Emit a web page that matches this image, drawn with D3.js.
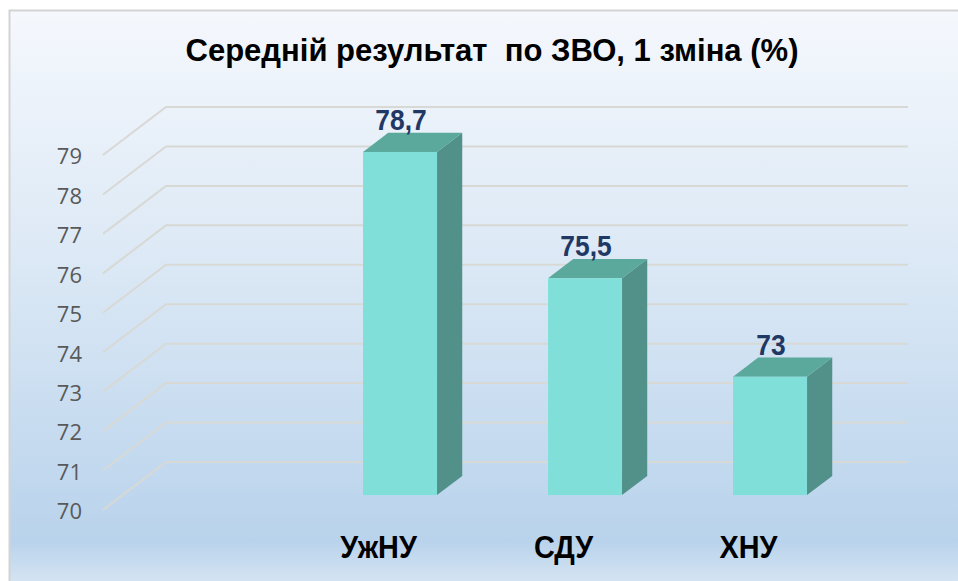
<!DOCTYPE html>
<html lang="uk">
<head>
<meta charset="utf-8">
<script src="https://d3js.org/d3.v7.min.js"></script>
<style>
  body { margin: 0; background: #fff; }
  svg { display: block; }
</style>
</head>
<body>
<script>
  var width = 958, height = 581;

  // data
  var categories = ["УжНУ", "СДУ", "ХНУ"];
  var values = [78.7, 75.5, 73];
  var valueLabels = ["78,7", "75,5", "73"];
  var yTicks = [70, 71, 72, 73, 74, 75, 76, 77, 78, 79];
  var title = "Середній результат  по ЗВО, 1 зміна (%)";

  var svg = d3.select("body").append("svg")
    .attr("width", width)
    .attr("height", height);

  // squeeze bold text a bit horizontally, like the original
  function squeeze(sel, k) {
    sel.each(function() {
      var len = this.getComputedTextLength();
      d3.select(this)
        .attr("textLength", len * k)
        .attr("lengthAdjust", "spacingAndGlyphs");
    });
  }

  // background gradient
  var defs = svg.append("defs");
  var grad = defs.append("linearGradient")
    .attr("id", "bg").attr("x1", 0).attr("y1", 0).attr("x2", 0).attr("y2", 1);
  grad.append("stop").attr("offset", "0").attr("stop-color", "#f5f8fd");
  grad.append("stop").attr("offset", "0.45").attr("stop-color", "#dbe8f5");
  grad.append("stop").attr("offset", "0.93").attr("stop-color", "#b9d3ec");
  grad.append("stop").attr("offset", "1").attr("stop-color", "#d4e3f2");

  svg.append("rect")
    .attr("x", 9).attr("y", 10)
    .attr("width", width - 9).attr("height", height - 10)
    .attr("fill", "url(#bg)");
  svg.append("path")
    .attr("d", "M9.5," + height + "V10.5H" + width)
    .attr("fill", "none").attr("stroke", "#d3d3d3").attr("stroke-width", 2);

  // scales (front plane of the 3d box)
  var y = d3.scaleLinear().domain([70, 79]).range([510, 155]);
  var x = d3.scaleBand().domain(categories).range([288, 843])
    .paddingInner(0.6).paddingOuter(0.3);

  // depth projection
  var depthX = 63, depthY = -48;
  function px(xx, d) { return xx + d * depthX; }
  function py(yy, d) { return yy + d * depthY; }

  var gridLeft = 103, gridRight = 908 - depthX;

  // gridlines: diagonal on the side wall + horizontal on the back wall
  svg.append("g").selectAll("path")
    .data(yTicks)
    .join("path")
    .attr("d", function(v) {
      return "M" + gridLeft + "," + y(v) +
        "L" + px(gridLeft, 1) + "," + py(y(v), 1) +
        "H" + px(gridRight, 1);
    })
    .attr("fill", "none")
    .attr("stroke", "#d8d9d5")
    .attr("stroke-width", 2);

  // y axis
  var yAxis = svg.append("g")
    .attr("transform", "translate(88,0)")
    .call(d3.axisLeft(y).tickValues(yTicks).tickSize(0).tickPadding(6));
  yAxis.select(".domain").remove();
  yAxis.selectAll("text")
    .attr("fill", "#595959")
    .style("font-family", "'Open Sans', sans-serif")
    .style("font-size", "22px")
    .attr("dy", "0.4em");

  // bars
  var dFront = 0.31, dBack = 0.71;
  var bw = x.bandwidth();
  var colFront = "#80e0d9", colTop = "#5ba89c", colSide = "#51918a";

  var bars = svg.append("g").selectAll("g")
    .data(values)
    .join("g");

  // right side
  bars.append("path")
    .attr("fill", colSide)
    .attr("d", function(v, i) {
      var xr = x(categories[i]) + bw;
      return "M" + px(xr, dFront) + "," + py(y(v), dFront) +
        "L" + px(xr, dBack) + "," + py(y(v), dBack) +
        "L" + px(xr, dBack) + "," + py(y(70), dBack) +
        "L" + px(xr, dFront) + "," + py(y(70), dFront) + "Z";
    });

  // top
  bars.append("path")
    .attr("fill", colTop)
    .attr("d", function(v, i) {
      var xl = x(categories[i]), xr = xl + bw;
      return "M" + px(xl, dFront) + "," + py(y(v), dFront) +
        "L" + px(xr, dFront) + "," + py(y(v), dFront) +
        "L" + px(xr, dBack) + "," + py(y(v), dBack) +
        "L" + px(xl, dBack) + "," + py(y(v), dBack) + "Z";
    });

  // front
  bars.append("rect")
    .attr("fill", colFront)
    .attr("x", function(v, i) { return px(x(categories[i]), dFront); })
    .attr("y", function(v) { return py(y(v), dFront); })
    .attr("width", bw)
    .attr("height", function(v) { return y(70) - y(v); });

  // value labels
  svg.append("g").selectAll("text")
    .data(values)
    .join("text")
    .attr("x", function(v, i) { return px(x(categories[i]) + bw / 2, dFront) + 1; })
    .attr("y", function(v) { return py(y(v), dFront) - 22; })
    .attr("text-anchor", "middle")
    .attr("fill", "#1f3864")
    .style("font-family", "'Liberation Sans', Arial, sans-serif")
    .style("font-weight", "bold")
    .style("font-size", "30px")
    .text(function(v, i) { return valueLabels[i]; })
    .call(squeeze, 0.88);

  // category labels (front plane)
  svg.append("g").selectAll("text")
    .data(categories)
    .join("text")
    .attr("x", function(c) { return x(c) + bw / 2 - 2; })
    .attr("y", 558)
    .attr("text-anchor", "middle")
    .attr("fill", "#000")
    .style("font-family", "'Liberation Sans', Arial, sans-serif")
    .style("font-weight", "bold")
    .style("font-size", "32px")
    .text(function(c) { return c; })
    .call(squeeze, 0.9);

  // title
  svg.append("text")
    .attr("x", 492)
    .attr("y", 61)
    .attr("text-anchor", "middle")
    .attr("fill", "#000")
    .style("font-family", "'Liberation Sans', Arial, sans-serif")
    .style("font-weight", "bold")
    .style("font-size", "32px")
    .style("white-space", "pre")
    .attr("textLength", 613)
    .attr("lengthAdjust", "spacingAndGlyphs")
    .text(title);
</script>
</body>
</html>
